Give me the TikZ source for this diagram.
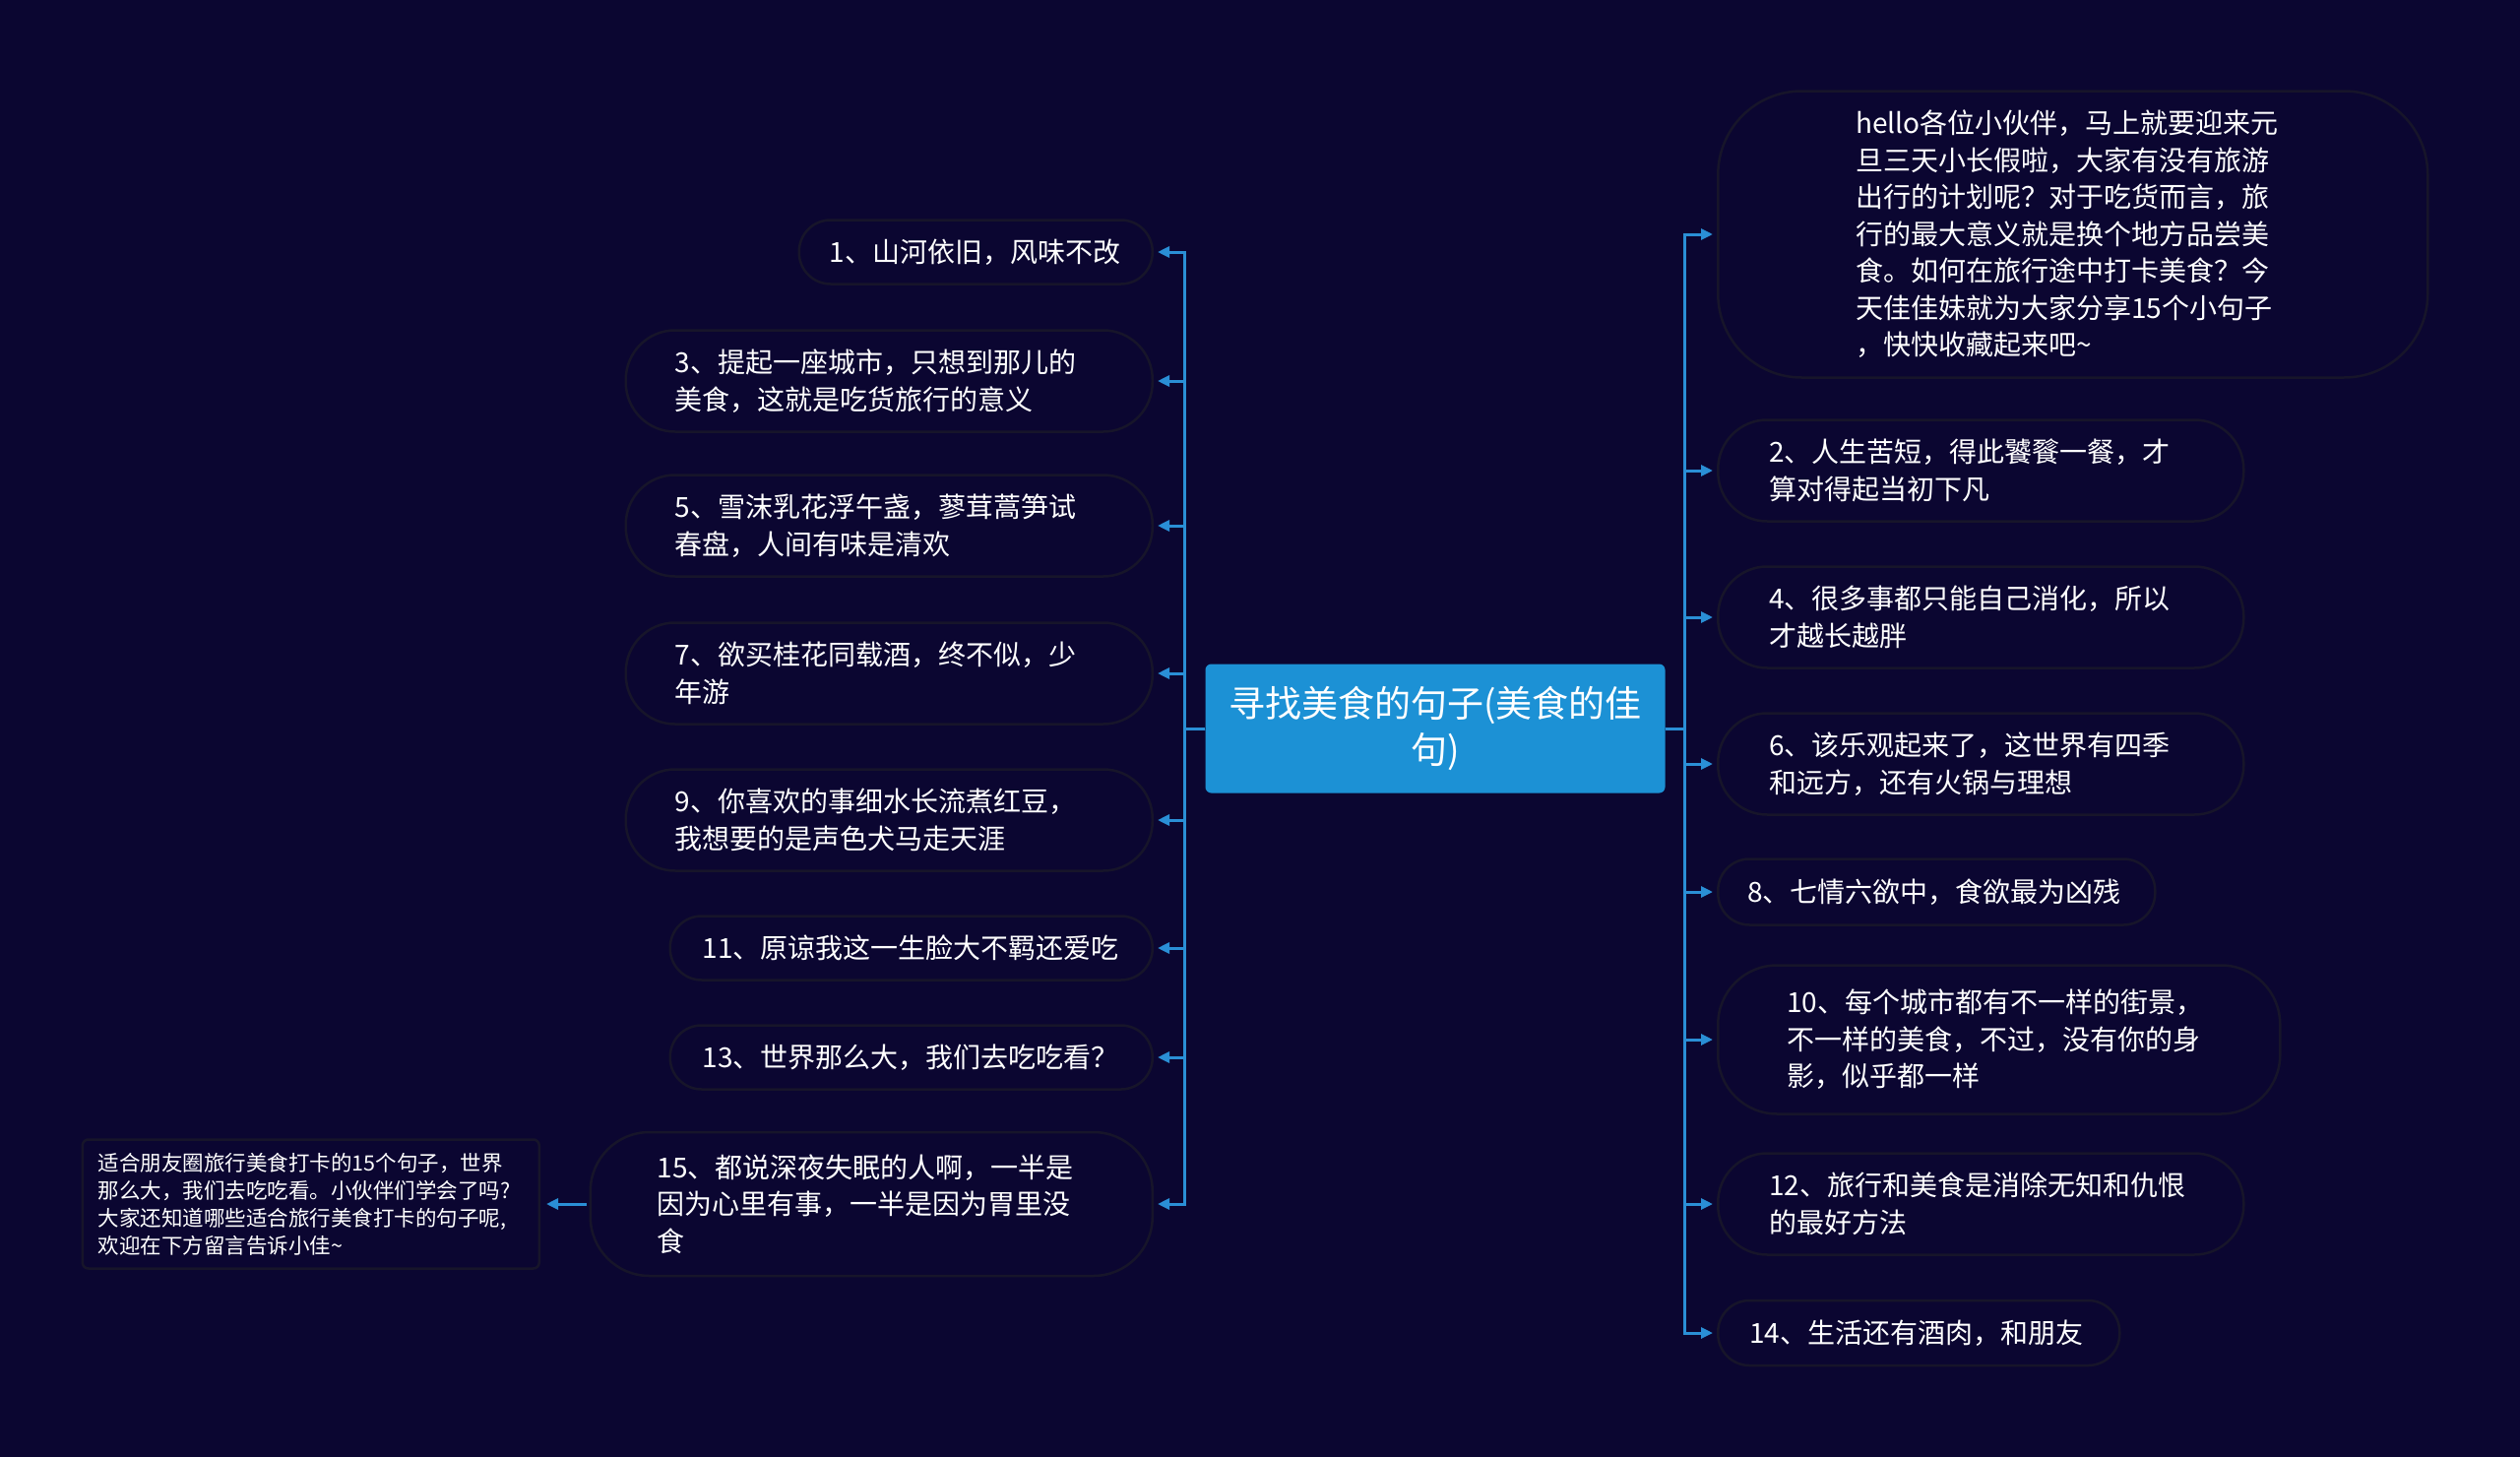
\documentclass[tikz,border=0pt]{standalone}
\usepackage{fontspec}
\setmainfont{Noto Sans CJK SC}
\usetikzlibrary{arrows.meta}
\definecolor{bg}{HTML}{0B0631}
\definecolor{wire}{HTML}{2A8FD6}
\definecolor{hubfill}{HTML}{1C91D5}
\definecolor{rim}{HTML}{17152A}
\begin{document}
\begin{tikzpicture}[x=1pt,y=-1pt,
  leaf/.style={draw=rim, line width=2.5pt, fill=bg, text=white, align=left,
    font=\fontsize{28}{37.5}\selectfont, inner ysep=0pt},
  pill/.style={leaf, minimum height=65pt, rounded corners=32pt},
  two/.style={leaf, minimum height=103pt, rounded corners=50pt},
  three/.style={leaf, minimum height=146pt, rounded corners=60pt},
  conn/.style={wire, line width=3pt, -{Triangle[length=12pt,width=11pt]}, shorten >=4pt}]
\useasboundingbox (0,0) rectangle (2560,1480);
\fill[bg] (0,0) rectangle (2560,1480);

% centre
\node[fill=hubfill, rounded corners=6pt, minimum width=467pt, minimum height=131pt,
  text=white, align=center, font=\fontsize{37}{47}\selectfont] (hub) at (1458,740)
  {寻找美食的句子(美食的佳\\句)};

% left side
\node[pill, anchor=east, inner xsep=31pt, text width=297pt] (n1) at (1172,256) {1、山河依旧，风味不改};
\node[two, anchor=east, inner xsep=50pt, text width=435pt] (n3) at (1172,387) {3、提起一座城市，只想到那儿的\\美食，这就是吃货旅行的意义};
\node[two, anchor=east, inner xsep=50pt, text width=435pt] (n5) at (1172,534) {5、雪沫乳花浮午盏，蓼茸蒿笋试\\春盘，人间有味是清欢};
\node[two, anchor=east, inner xsep=50pt, text width=435pt] (n7) at (1172,684) {7、欲买桂花同载酒，终不似，少\\年游};
\node[two, anchor=east, inner xsep=50pt, text width=435pt] (n9) at (1172,833) {9、你喜欢的事细水长流煮红豆，\\我想要的是声色犬马走天涯};
\node[pill, anchor=east, inner xsep=33pt, text width=424pt] (n11) at (1172,963) {11、原谅我这一生脸大不羁还爱吃};
\node[pill, anchor=east, inner xsep=33pt, text width=424pt] (n13) at (1172,1074) {13、世界那么大，我们去吃吃看？};
\node[three, anchor=east, inner xsep=68pt, text width=435pt] (n15) at (1172,1223) {15、都说深夜失眠的人啊，一半是\\因为心里有事，一半是因为胃里没\\食};
\node[leaf, anchor=east, rounded corners=6pt, minimum height=131pt, inner xsep=16pt, text width=432pt,
  font=\fontsize{21.5}{28}\selectfont] (note) at (549,1223)
  {适合朋友圈旅行美食打卡的15个句子，世界\\那么大，我们去吃吃看。小伙伴们学会了吗?\\大家还知道哪些适合旅行美食打卡的句子呢,\\欢迎在下方留言告诉小佳\textasciitilde};

% right side
\node[leaf, anchor=west, minimum height=291pt, rounded corners=85pt, inner xsep=140pt, text width=441pt] (intro) at (1744,238)
  {hello各位小伙伴，马上就要迎来元\\旦三天小长假啦，大家有没有旅游\\出行的计划呢？对于吃货而言，旅\\行的最大意义就是换个地方品尝美\\食。如何在旅行途中打卡美食？今\\天佳佳妹就为大家分享15个小句子\\，快快收藏起来吧\textasciitilde};
\node[two, anchor=west, inner xsep=52pt, text width=430pt] (r2) at (1744,478) {2、人生苦短，得此饕餮一餐，才\\算对得起当初下凡};
\node[two, anchor=west, inner xsep=52pt, text width=430pt] (r4) at (1744,627) {4、很多事都只能自己消化，所以\\才越长越胖};
\node[two, anchor=west, inner xsep=52pt, text width=430pt] (r6) at (1744,776) {6、该乐观起来了，这世界有四季\\和远方，还有火锅与理想};
\node[pill, anchor=west, minimum height=67pt, inner xsep=30pt, text width=384pt] (r8) at (1744,906) {8、七情六欲中，食欲最为凶残};
\node[three, anchor=west, minimum height=151pt, inner xsep=70pt, text width=431pt] (r10) at (1744,1056) {10、每个城市都有不一样的街景，\\不一样的美食，不过，没有你的身\\影，似乎都一样};
\node[two, anchor=west, inner xsep=52pt, text width=430pt] (r12) at (1744,1223) {12、旅行和美食是消除无知和仇恨\\的最好方法};
\node[pill, anchor=west, minimum height=66pt, inner xsep=32pt, text width=344pt] (r14) at (1744,1354) {14、生活还有酒肉，和朋友};

% connectors left
\foreach \t in {n1,n3,n5,n7,n9,n11,n13,n15}
  \draw[conn] (hub.west) -- ++(-21,0) |- (\t.east);
% connectors right
\foreach \t in {intro,r2,r4,r6,r8,r10,r12,r14}
  \draw[conn] (hub.east) -- ++(20,0) |- (\t.west);
\draw[conn, shorten >=6pt, shorten <=3pt] (n15.west) -- (note.east);
\end{tikzpicture}
\end{document}
